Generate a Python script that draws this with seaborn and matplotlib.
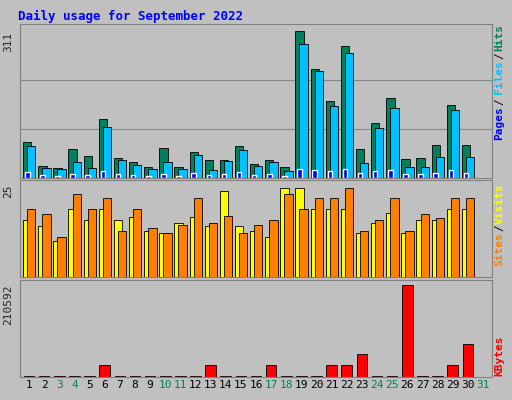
import matplotlib
matplotlib.use("Agg")
import matplotlib.pyplot as plt
import seaborn as sns
import numpy as np

sns.set_style("white")
plt.rcParams['font.family'] = ['DejaVu Sans Mono', 'DejaVu Sans']

days = list(range(1, 32))
hits = [76,25,21,61,46,124,42,34,23,63,23,55,38,38,67,29,38,23,311,231,162,279,61,116,170,40,42,69,155,69,0]
files = [67,21,19,34,21,107,38,27,19,34,19,48,17,36,59,25,34,15,284,227,153,265,32,105,149,23,23,44,145,44,0]
pages = [12,6,5,8,6,14,8,6,5,8,5,10,6,8,12,6,8,5,20,16,14,18,10,14,16,8,8,10,16,10,0]
sites = [15.5,13.7,9.7,18.4,15.5,18.4,15.5,16.3,12.6,11.8,14.7,16.3,13.7,23.4,13.7,12.6,10.8,24.2,24.2,18.4,18.4,18.4,11.8,14.7,17.4,11.8,15.5,15.5,18.4,18.4,0]
visits = [18.4,17.1,10.8,22.4,18.4,21.3,12.6,18.4,13.4,11.8,14.2,21.3,14.7,16.6,11.8,14.2,15.5,22.4,18.4,21.3,21.3,24.2,12.6,15.5,21.3,12.6,17.1,16.1,21.3,21.3,0]
kbytes = [2000,2000,2000,2000,2000,27800,2000,2000,2000,2000,2000,2000,27800,2000,2000,2000,27800,2000,2000,2000,27800,27800,53000,2000,2000,210592,2000,2000,27800,76000,0]
weekend = {3,4,10,11,17,18,24,25,31}

fig = plt.figure(figsize=(5.12, 4.0), dpi=100, facecolor="#C0C0C0")
x = np.array(days)
L, W = 0.039, 0.922
axs = [fig.add_axes([L, 0.555, W, 0.385]),
       fig.add_axes([L, 0.3075, W, 0.2425]),
       fig.add_axes([L, 0.0575, W, 0.2425])]
for ax in axs:
    ax.set_facecolor("#C0C0C0")
    ax.set_xlim(0.4, 31.6)
    for s in ax.spines.values():
        s.set_color("#808080")
    ax.set_yticks([])
    ax.set_xticks([])

ec = dict(edgecolor="black", linewidth=0.6)
a = axs[0]
a.set_ylim(0, 326)
for f in (1/3, 2/3):
    a.axhline(326*f*0.95, color="#888888", lw=0.8, zorder=0)
a.bar(x - 0.12, hits, width=0.55, color="#00805C", **ec, zorder=2)
a.bar(x + 0.15, files, width=0.55, color="#00C0FF", **ec, zorder=3)
a.bar(x - 0.12, pages, width=0.3, color="#0000FF", zorder=4)
a.text(-0.015, 0.95, "311", transform=a.transAxes, rotation=90, ha="right", va="top", fontsize=8)
fig.text(0.975, 0.94, "Hits", color="#00805C", rotation=90, ha="center", va="top", fontsize=8, fontweight="bold")
fig.text(0.975, 0.87, "/", color="black", rotation=90, ha="center", va="top", fontsize=8)
fig.text(0.975, 0.85, "Files", color="#00C0FF", rotation=90, ha="center", va="top", fontsize=8, fontweight="bold")
fig.text(0.975, 0.755, "/", color="black", rotation=90, ha="center", va="top", fontsize=8)
fig.text(0.975, 0.735, "Pages", color="#0000FF", rotation=90, ha="center", va="top", fontsize=8, fontweight="bold")

a = axs[1]
a.set_ylim(0, 26.3)
a.bar(x - 0.12, sites, width=0.55, color="#FFFF00", **ec, zorder=2)
a.bar(x + 0.15, visits, width=0.55, color="#FF8000", **ec, zorder=3)
a.text(-0.015, 0.95, "25", transform=a.transAxes, rotation=90, ha="right", va="top", fontsize=8)
fig.text(0.975, 0.54, "Visits", color="#FFFF00", rotation=90, ha="center", va="top", fontsize=8, fontweight="bold")
fig.text(0.975, 0.44, "/", color="black", rotation=90, ha="center", va="top", fontsize=8)
fig.text(0.975, 0.42, "Sites", color="#FF8000", rotation=90, ha="center", va="top", fontsize=8, fontweight="bold")

a = axs[2]
a.set_ylim(0, 221000)
a.bar(x, kbytes, width=0.7, color="#FF0000", **ec, zorder=2)
a.text(-0.015, 0.95, "210592", transform=a.transAxes, rotation=90, ha="right", va="top", fontsize=8)
fig.text(0.975, 0.16, "KBytes", color="#FF0000", rotation=90, ha="center", va="top", fontsize=8, fontweight="bold")
a.set_xticks(days)
a.set_xticklabels([str(d) for d in days], fontsize=8)
a.tick_params(axis="x", length=0, pad=2)
for lbl, d in zip(a.get_xticklabels(), days):
    lbl.set_color("#00805C" if d in weekend else "black")

fig.text(0.035, 0.96, "Daily usage for September 2022", color="#0000FF", fontsize=9, fontweight="bold", va="center")
fig.savefig("out.png", dpi=100, facecolor=fig.get_facecolor())
